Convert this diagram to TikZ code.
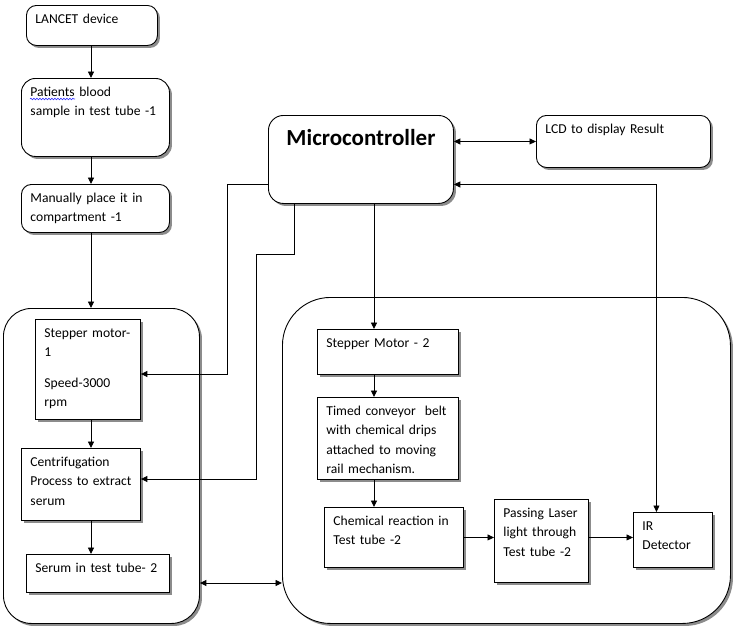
\documentclass[tikz,border=0pt]{standalone}
\usepackage{fontspec}
\setmainfont{Carlito}
\usepackage{tikz}
\tikzset{
  block_font/.style = {font=\fontsize{13.6}{19.5}\selectfont},
  title_font/.style = {font=\fontsize{23}{27}\selectfont\bfseries},
  shaded/.style = {fill=white, drop shadow={shadow xshift=2.5pt, shadow yshift=-2.5pt, fill=black!45, opacity=1}}
}
\tikzset{
  block/.style = {block_font, shaded, draw, line width=0.9pt, align=left, anchor=north west, inner xsep=9pt, inner ysep=6pt, text height=12pt},
  round_block/.style = {block, rounded corners=10pt},
  sized/.style 2 args = {text width=#1, text depth=#2},
  stage/.style = {shaded, draw, line width=0.9pt, anchor=north west, inner sep=0pt},
  link/.style = {line width=0.9pt, ->}
}
\usetikzlibrary{shadows, arrows.meta, decorations.pathmorphing}

\begin{document}
\begin{tikzpicture}[x=1pt, y=-1pt, >={Triangle[length=6.5pt, width=6pt]}]
        \path[fill=white, use as bounding box] (0,0) rectangle (741,640);

        % Lanes
        \coordinate (spine_l) at (91,0);
        \coordinate (spine_r) at (374,0);

        % Stages
        \node[stage, minimum width=196pt, minimum height=315pt, rounded corners=28pt] at (3,308) (left_box) {};
        \node[stage, minimum width=448pt, minimum height=326pt, rounded corners=48pt] at (282,297) (right_box) {};

        % Sample
        \node[round_block, sized={113pt}{16pt}] at (26,5) (lancet) {LANCET device};
        \node[round_block, rounded corners=14pt, sized={130pt}{54pt}] at (21,78) (blood) {
            Patients blood\\
            sample in test tube -1};
        \node[round_block, sized={130pt}{24pt}] at (21,184) (place) {
            Manually place it in\\
            compartment -1};

        % Control
        \node[round_block, rounded corners=15pt, title_font, align=center, text height=24pt, sized={167pt}{52pt}] at (268,115) (mcu) {
            Microcontroller};
        \node[round_block, sized={156pt}{28pt}] at (536,115) (lcd) {LCD to display Result};

        % Centrifuge stage
        \node[block, sized={87pt}{76pt}] at (35,319) (motor_1) {
            Stepper motor-\\
            1\\[11pt]
            Speed-3000\\
            rpm};
        \node[block, sized={101pt}{48pt}] at (21,448) (centrifuge) {
            Centrifugation\\
            Process to extract\\
            serum};
        \node[block, sized={125pt}{14pt}] at (26,554) (serum) {Serum in test tube- 2};

        % Test stage
        \node[block, sized={123pt}{21pt}] at (317,329) (motor_2) {Stepper Motor - 2};
        \node[block, sized={123pt}{58pt}] at (317,397) (conveyor) {
            Timed conveyor\ \ belt\\
            with chemical drips\\
            attached to moving\\
            rail mechanism.};
        \node[block, sized={121pt}{36pt}] at (324,507) (reaction) {
            Chemical reaction in\\
            Test tube -2};
        \node[block, sized={76pt}{59pt}] at (494,499) (laser) {
            Passing Laser\\
            light through\\
            Test tube -2};
        \node[block, sized={61pt}{31pt}] at (633,512) (detector) {
            IR\\
            Detector};

        % Spell check mark
        \draw[blue!80, line width=0.6pt, decorate, decoration={snake, amplitude=0.8pt, segment length=3pt}]
            ([xshift=9pt, yshift=-21pt]blood.north west) -- ++(45,0);

        % Arrows
        \draw[link] (lancet.south -| spine_l) -- (blood.north -| spine_l);
        \draw[link] (blood.south -| spine_l) -- (place.north -| spine_l);
        \draw[link] (place.south -| spine_l) -- (left_box.north -| spine_l);
        \draw[link] (motor_1.south -| spine_l) -- (centrifuge.north -| spine_l);
        \draw[link] (centrifuge.south -| spine_l) -- (serum.north -| spine_l);

        \draw[link] (mcu.south -| spine_r) -- (motor_2.north -| spine_r);
        \draw[link] (motor_2.south -| spine_r) -- (conveyor.north -| spine_r);
        \draw[link] (conveyor.south -| spine_r) -- (reaction.north -| spine_r);
        \draw[link] (reaction.east) -- (reaction.east -| laser.west);
        \draw[link] (laser.east |- reaction.east) -- (reaction.east -| detector.west);

        \draw[link, <->] (mcu.east |- lcd.west) -- (lcd.west);
        \draw[link] ([yshift=-25pt]mcu.west) -| (227,374) -- (motor_1.east |- 0,374);
        \draw[link] (mcu.south -| 294,0) |- (256,254) |- (centrifuge.east |- 0,479);
        \draw[link, <->] ([yshift=-25pt]mcu.east) -| ([xshift=-16.5pt]detector.north);
        \draw[link, <->] (left_box.east |- 0,583) -- (right_box.west |- 0,583);
\end{tikzpicture}
\end{document}
